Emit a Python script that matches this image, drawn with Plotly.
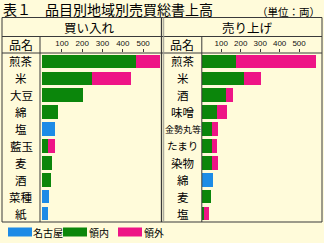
import plotly.graph_objects as go

# ---- data ----
buy_items = ["煎茶", "米", "大豆", "綿", "塩", "藍玉", "麦", "酒", "菜種", "紙"]
buy_nagoya = [0, 0, 0, 0, 67, 0, 0, 0, 37, 33]
buy_ryonai = [466, 249, 205, 82, 0, 29, 52, 46, 0, 0]
buy_ryogai = [118, 192, 0, 0, 0, 37, 0, 0, 0, 0]

sell_items = ["煎茶", "米", "酒", "味噌", "金勢丸等", "たまり", "染物", "綿", "麦", "塩"]
sell_nagoya = [0, 0, 0, 0, 0, 0, 0, 55, 0, 0]
sell_ryonai = [175, 218, 122, 76, 53, 50, 50, 0, 45, 12]
sell_ryogai = [411, 86, 36, 51, 28, 29, 31, 0, 0, 23]

series_names = ["名古屋", "領内", "領外"]
series_colors = ["#1D8BE6", "#0B860B", "#EE1486"]
tick_vals = [100, 200, 300, 400, 500]

title_text = "表１　品目別地域別売買総書上高"
unit_text = "（単位：両）"
panel_titles = ["買い入れ", "売り上げ"]
col_header = "品名"

W, H = 324, 243
FONT = "Noto Sans CJK JP"
BG = "#FFFBDA"
LINE = "#3a3a3a"


def px(x):
    return x / W


def py(y):
    return 1 - y / H


fig = go.Figure()

panels = [
    (buy_items, [buy_nagoya, buy_ryonai, buy_ryogai], "x", "y"),
    (sell_items, [sell_nagoya, sell_ryonai, sell_ryogai], "x2", "y2"),
]
for items, vals, xa, ya in panels:
    for name, color, v in zip(series_names, series_colors, vals):
        fig.add_trace(go.Bar(
            y=items, x=v, orientation="h", name=name,
            marker=dict(color=color, line=dict(width=0)),
            width=0.8, xaxis=xa, yaxis=ya, showlegend=False,
            hovertemplate="%{y}: %{x}<extra>" + name + "</extra>",
        ))

top, hdr1, hdr2, bottom = 17.5, 36.5, 53, 222
left, col1, mid, col2, right = 2, 40, 161.5, 201.8, 322

axis_common = dict(
    side="top", tickvals=tick_vals, ticks="outside", ticklen=3,
    tickcolor=LINE, tickwidth=1, showgrid=False, zeroline=False,
    showline=False, fixedrange=True,
    tickfont=dict(size=8, family="Liberation Sans", color="#111"),
)
fig.update_layout(
    barmode="stack",
    width=W, height=H,
    margin=dict(l=0, r=0, t=0, b=0),
    paper_bgcolor=BG, plot_bgcolor=BG,
    bargap=0.2,
    xaxis=dict(domain=[px(col1), px(mid - 0.5)], range=[-8, 588],
               anchor="y", **axis_common),
    yaxis=dict(domain=[py(bottom), py(hdr2)], range=[9.5, -0.5],
               anchor="x", showticklabels=False, showgrid=False,
               zeroline=False, ticks="", fixedrange=True),
    xaxis2=dict(domain=[px(col2), px(right)], range=[0, 618],
                anchor="y2", **axis_common),
    yaxis2=dict(domain=[py(bottom), py(hdr2)], range=[9.5, -0.5],
                anchor="x2", showticklabels=False, showgrid=False,
                zeroline=False, ticks="", fixedrange=True),
)

shapes = []


def hline(y, x0, x1, w=1):
    shapes.append(dict(type="line", xref="paper", yref="paper",
                       x0=px(x0), x1=px(x1), y0=py(y), y1=py(y),
                       line=dict(color=LINE, width=w)))


def vline(x, y0, y1, w=1, color=LINE):
    shapes.append(dict(type="line", xref="paper", yref="paper",
                       x0=px(x), x1=px(x), y0=py(y0), y1=py(y1),
                       line=dict(color=color, width=w)))


hline(top, left, right)
hline(hdr1, left, right)
hline(hdr2, left, right)
hline(bottom, left, right, 1.2)
vline(left, top, bottom)
vline(right, top, bottom)
vline(mid, top, bottom, 1.3)
vline(mid + 2.2, top, bottom, 1, "#9a9a90")
vline(col1, hdr1, bottom)
vline(col2, hdr1, bottom)

# legend swatches
sw = [(8, 32), (63, 87), (118, 142)]
for (x0, x1), c in zip(sw, series_colors):
    shapes.append(dict(type="rect", xref="paper", yref="paper",
                       x0=px(x0), x1=px(x1), y0=py(236.5), y1=py(227.5),
                       fillcolor=c, line=dict(width=0)))
fig.update_layout(shapes=shapes)

ann = []


def text(x, y, s, size, xanchor="center", yref="paper", family=FONT):
    ann.append(dict(x=x, y=y, xref="paper", yref=yref, text=s,
                    showarrow=False, xanchor=xanchor, yanchor="middle",
                    font=dict(size=size, family=family, color="#000"),
                    borderpad=0))


text(px(2), py(8.5), title_text, 14, "left")
text(px(321), py(11.5), unit_text, 10.5, "right")
text(px(89), py(27), panel_titles[0], 12.5)
text(px(247), py(27), panel_titles[1], 12.5)
text(px(21), py(45), col_header, 12)
text(px(182), py(45), col_header, 12)

for it in buy_items:
    text(px(21), it, it, 11.5, yref="y")
for it in sell_items:
    size = 11.5
    if len(it) >= 4:
        size = 9
    elif len(it) == 3:
        size = 10.5
    text(px(183), it, it, size, yref="y2")

leg_x = [32, 88, 143]
for x, n in zip(leg_x, series_names):
    text(px(x), py(232), n, 10, "left")

fig.update_layout(annotations=ann)

fig.write_html("out.html")
